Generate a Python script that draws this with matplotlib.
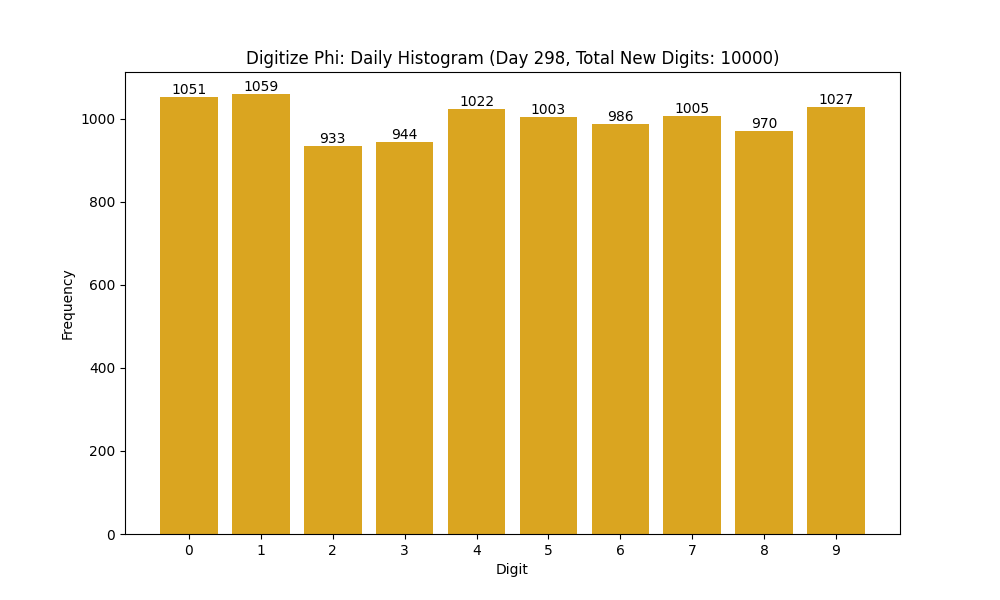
import matplotlib
matplotlib.use("Agg")
import matplotlib.pyplot as plt

digits = [0, 1, 2, 3, 4, 5, 6, 7, 8, 9]
counts = [1051, 1059, 933, 944, 1022, 1003, 986, 1005, 970, 1027]
day = 298
total = 10000

fig, ax = plt.subplots(figsize=(10, 6), dpi=100)
bars = ax.bar(digits, counts, color="goldenrod")
for d, c in zip(digits, counts):
    ax.text(d, c, str(c), ha="center", va="bottom")

ax.set_xticks(digits)
ax.set_xlabel("Digit")
ax.set_ylabel("Frequency")
ax.set_title(f"Digitize Phi: Daily Histogram (Day {day}, Total New Digits: {total})")

fig.savefig("out.png")
